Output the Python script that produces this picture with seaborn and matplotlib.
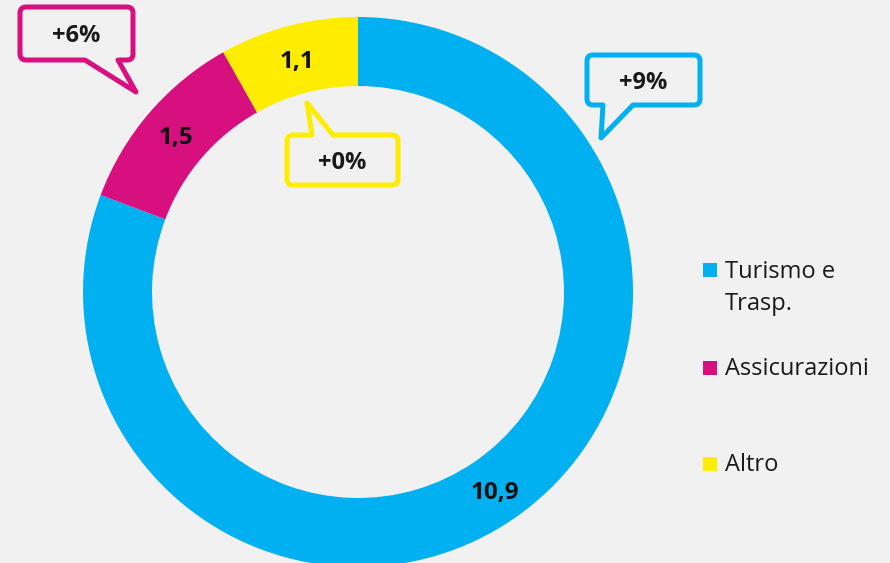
import matplotlib
matplotlib.use("Agg")
import matplotlib.pyplot as plt
import seaborn as sns
from matplotlib.patches import PathPatch, Rectangle
from matplotlib.path import Path
import numpy as np

# ---- data ----
categories = ["Turismo e\nTrasp.", "Assicurazioni", "Altro"]
values = [10.9, 1.5, 1.1]
changes = ["+9%", "+6%", "+0%"]
palette = ["#00B0F0", "#D80F7E", "#FFED00"]

sns.set_theme(style="white")
plt.rcParams['font.family'] = ['Open Sans', 'DejaVu Sans']
colors = sns.color_palette(palette)

BG = "#F1F1F1"
W, H = 890, 563
fig = plt.figure(figsize=(W / 100, H / 100), dpi=100, facecolor=BG)
cx, cy, R = 358, 292, 275
ax = fig.add_axes([(cx - R) / W, (H - cy - R) / H, 2 * R / W, 2 * R / H])
ax.set_facecolor(BG)

wedges, _ = ax.pie(values, colors=colors, startangle=90, counterclock=False,
                   radius=1, wedgeprops=dict(width=0.251, linewidth=0))
ax.set_xlim(-1, 1)
ax.set_ylim(-1, 1)
ax.set_aspect('equal')
ax.axis('off')

def fmt(v):
    return f"{v:.1f}".replace('.', ',')

# value labels in the ring
for w, v in zip(wedges, values):
    th = np.deg2rad((w.theta1 + w.theta2) / 2)
    r = 0.875
    ax.text(r * np.cos(th), r * np.sin(th) - 3 / R, fmt(v), ha='center', va='center',
            fontsize=17.5, fontweight='bold', color='#111111')

def P(x, y):
    return ((x - cx) / R, (cy - y) / R)

def bubble_path(verts, rounded, rad=6.0):
    pts = [np.array(v, dtype=float) for v in verts]
    n = len(pts)
    out, codes = [], []
    for i in range(n):
        v = pts[i]
        if rounded[i]:
            p, q = pts[i - 1], pts[(i + 1) % n]
            a = v + rad * (p - v) / np.linalg.norm(p - v)
            b = v + rad * (q - v) / np.linalg.norm(q - v)
            out += [a, v, b]
            codes += [Path.MOVETO if i == 0 else Path.LINETO, Path.CURVE3, Path.CURVE3]
        else:
            out.append(v)
            codes.append(Path.MOVETO if i == 0 else Path.LINETO)
    out.append(out[0])
    codes.append(Path.CLOSEPOLY)
    return Path([P(*p) for p in out], codes)

# speech bubbles (pixel layout positions)
bubbles = [
    [(587, 55), (700, 55), (700, 105), (633, 105), (601, 138), (603, 105), (587, 105)],
    [(20, 7), (133, 7), (133, 60), (118, 60), (136, 92), (85, 60), (20, 60)],
    [(287, 135), (312, 135), (307, 103), (333, 135), (398, 135), (398, 185), (287, 185)],
]
round_flags = [
    [1, 1, 1, 0, 0, 0, 1],
    [1, 1, 1, 0, 0, 0, 1],
    [1, 0, 0, 0, 1, 1, 1],
]
boxes = [((587, 55), (700, 105)), ((20, 7), (133, 60)), ((287, 135), (398, 185))]
for verts, fl, box, col, ch in zip(bubbles, round_flags, boxes, colors, changes):
    patch = PathPatch(bubble_path(verts, fl), facecolor=BG, edgecolor=col,
                      linewidth=3.6, joinstyle='round', clip_on=False)
    ax.add_patch(patch)
    (x0, y0), (x1, y1) = box
    tx, ty = P((x0 + x1) / 2, (y0 + y1) / 2 + 3)
    ax.text(tx, ty, ch, ha='center', va='center', fontsize=17,
            fontweight='bold', color='#1a1a1a')

# legend (manual, to keep the original uneven spacing)
leg_y = [288, 369, 465]
sq_y = [270, 368, 464]
for lab, col, ly, sy in zip(categories, colors, leg_y, sq_y):
    fig.patches.append(Rectangle((703 / W, (H - sy - 7) / H), 14 / W, 14 / H,
                                 transform=fig.transFigure, facecolor=col,
                                 edgecolor='none'))
    fig.text(725 / W, (H - ly) / H, lab, ha='left', va='center', fontsize=17,
             color='#1a1a1a', linespacing=1.5)

fig.savefig("out.png", dpi=100, facecolor=BG)
